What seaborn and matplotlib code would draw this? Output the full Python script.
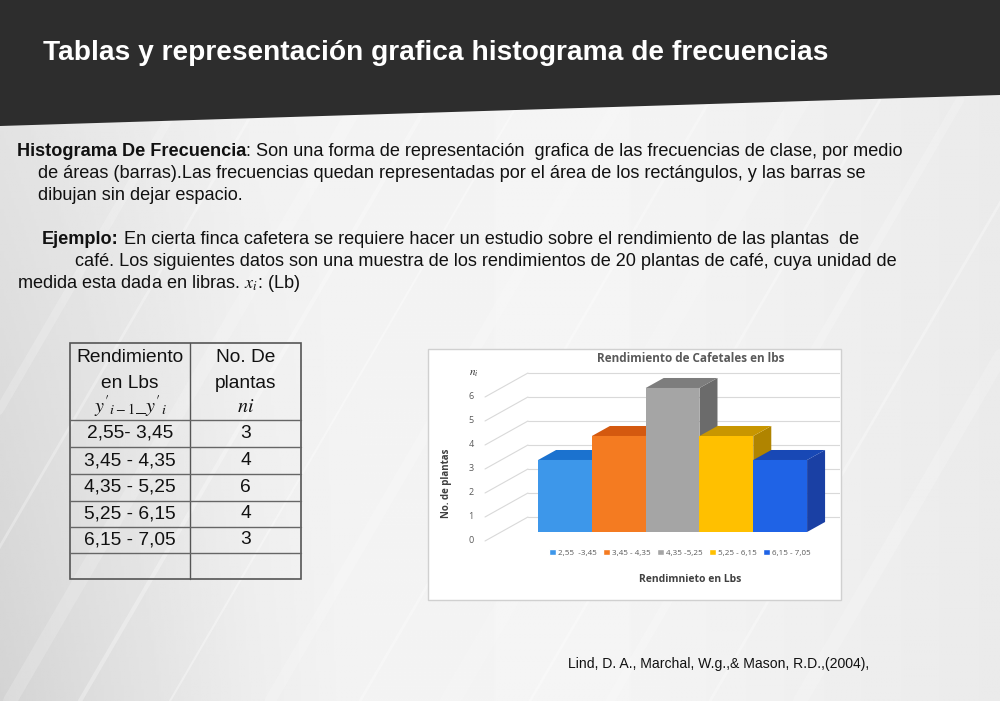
import matplotlib
matplotlib.use("Agg")
import numpy as np
import pandas as pd
import matplotlib.pyplot as plt
import seaborn as sns
from matplotlib.patches import Polygon, Rectangle
from matplotlib import font_manager

# Datos de la tabla / grafico
clases_tabla = ["2,55- 3,45", "3,45 - 4,35", "4,35 - 5,25", "5,25 - 6,15", "6,15 - 7,05"]
clases_leyenda = ["2,55  -3,45", "3,45 - 4,35", "4,35 -5,25", "5,25 - 6,15", "6,15 - 7,05"]
plantas = [3, 4, 6, 4, 3]
valores_eje = [0, 1, 2, 3, 4, 5, 6]

colores_frente = ["#3D97EA", "#F47B21", "#A5A5A5", "#FFC000", "#1F63E6"]
colores_arriba = ["#1B72CF", "#D4590F", "#7D7D7D", "#C89600", "#1848B5"]
colores_lado = ["#1A66BA", "#B84E0C", "#6B6B6B", "#B08400", "#1A40A4"]

sns.set_theme(style="white")
plt.rcParams["mathtext.fontset"] = "stix"
nombres = {f.name for f in font_manager.fontManager.ttflist}
narrow = "Liberation Sans Narrow" in nombres
fam = ["Liberation Sans Narrow"] if narrow else ["Liberation Sans"]
fam_chart = ["Open Sans", "DejaVu Sans"]
plt.rcParams["font.family"] = fam + ["DejaVu Sans"]

fig = plt.figure(figsize=(10, 7.01), dpi=100)
renderer = fig.canvas.get_renderer()
bg = fig.add_axes([0, 0, 1, 1])
bg.set_xlim(0, 1000)
bg.set_ylim(701, 0)
bg.axis("off")

# fondo gris claro con franjas diagonales suaves
xx = np.linspace(0, 1000, 400)[None, :]
yy_ = np.linspace(0, 701, 200)[:, None]
img = (np.interp(xx, [0, 250, 600, 1000], [0.90, 0.95, 0.96, 0.92])
       - 0.07 * (yy_ / 701) * np.clip(1 - xx / 350, 0, 1))
bg.imshow(img, cmap="gray", vmin=0, vmax=1, extent=[0, 1000, 701, 0], aspect="auto", zorder=0)
for x0, lw, a in [(80, 6, 0.2), (160, 2, 0.3), (260, 10, 0.18), (330, 3, 0.3), (420, 1.5, 0.35),
                  (520, 8, 0.18), (610, 2, 0.3), (700, 14, 0.15), (780, 2, 0.3), (860, 6, 0.2),
                  (960, 2, 0.3), (1050, 10, 0.18)]:
    bg.plot([x0 - 250, x0 + 100], [701, 100], color="white", lw=lw, alpha=a, zorder=0.5)

# cabecera oscura
bg.add_patch(Polygon([(0, 0), (1000, 0), (1000, 95), (0, 126)], closed=True,
                     fc="#2d2d2d", ec="none", zorder=1))


def ancho(t):
    return t.get_window_extent(renderer=renderer).width


def ajustar(x, y, s, w_obj, ha="left", **kw):
    t = bg.text(x, y, s, fontsize=12, va="center", ha=ha, **kw)
    t.set_fontsize(12 * w_obj / ancho(t))
    return t


ajustar(43, 53, "Tablas y representación grafica histograma de frecuencias", 779,
        color="white", fontweight="bold" if not narrow else "normal", zorder=2)

# texto del cuerpo
t2 = ajustar(38, 174, "de áreas (barras).Las frecuencias quedan representadas por el área de los rectángulos, y las barras se",
             830, color="#111111", zorder=2)
size = t2.get_fontsize()


def linea(x, y, partes):
    for s, peso in partes:
        t = bg.text(x, y, s, fontsize=size, fontweight=peso, va="center", ha="left",
                    color="#111111", zorder=2)
        x += ancho(t)


linea(17, 152, [("Histograma De Frecuencia", "bold"),
                (": Son una forma de representación  grafica de las frecuencias de clase, por medio", "normal")])
linea(38, 195, [("dibujan sin dejar espacio.", "normal")])
linea(42, 239, [("Ejemplo:", "bold"),
                (" En cierta finca cafetera se requiere hacer un estudio sobre el rendimiento de las plantas  de", "normal")])
linea(75, 261, [("café. Los siguientes datos son una muestra de los rendimientos de 20 plantas de café, cuya unidad de", "normal")])
linea(17, 283, [("medida esta dada en libras. $x_i$: (Lb)", "normal")])

# tabla
xl, xm, xr = 70, 190, 301
filas_y = [420, 447, 474, 501, 527, 553, 579]
bg.add_patch(Rectangle((xl, 343), xr - xl, 579 - 343, fc="none", ec="#555555", lw=1.2, zorder=2))
bg.plot([xm, xm], [343, 579], color="#555555", lw=1, zorder=2)
for yy in filas_y[:-1]:
    bg.plot([xl, xr], [yy, yy], color="#666666", lw=1, zorder=2)
tref = ajustar((xl + xm) / 2, 357, "Rendimiento", 108, ha="center", color="#111111", zorder=3)
tsize = tref.get_fontsize()
for s, yy in [("en Lbs", 383)]:
    bg.text((xl + xm) / 2, yy, s, fontsize=tsize, ha="center", va="center", color="#111111", zorder=3)
for s, yy in [("No. De", 357), ("plantas", 383)]:
    bg.text((xm + xr) / 2, yy, s, fontsize=tsize, ha="center", va="center", color="#111111", zorder=3)
bg.text((xl + xm) / 2, 407, r"$y'_{i-1}\_y'_{i}$", fontsize=tsize * 1.05, ha="center", va="center",
        color="#111111", zorder=3)
bg.text((xm + xr) / 2, 407, r"$ni$", fontsize=tsize * 1.05, ha="center", va="center", color="#111111", zorder=3)
for i, (c, n) in enumerate(zip(clases_tabla, plantas)):
    yc = (filas_y[i] + filas_y[i + 1]) / 2
    bg.text((xl + xm) / 2, yc, c, fontsize=tsize, ha="center", va="center", color="#111111", zorder=3)
    bg.text((xm + xr) / 2, yc, str(n), fontsize=tsize, ha="center", va="center", color="#111111", zorder=3)

# caja blanca del grafico
bg.add_patch(Rectangle((428, 349), 413, 251, fc="white", ec="#d0d0d0", lw=1, zorder=2))
bg.text(691, 358, "Rendimiento de Cafetales en lbs", fontsize=8.5, fontweight="bold", color="#595959",
        ha="center", va="center", family=fam_chart, zorder=3)
bg.text(446, 483, "No. de plantas", fontsize=7, fontweight="bold", color="#404040", rotation=90,
        ha="center", va="center", family=fam_chart, zorder=3)
bg.text(690, 580, "Rendimnieto en Lbs", fontsize=7.5, fontweight="bold", color="#404040",
        ha="center", va="center", family=fam_chart, zorder=3)

# barras 3D
ax = fig.add_axes([470 / 1000, (701 - 545) / 701, 370 / 1000, 180 / 701])
ax.patch.set_alpha(0)
df = pd.DataFrame({"clase": clases_leyenda, "plantas": plantas})
sns.barplot(data=df, x="clase", y="plantas", hue="clase", palette=colores_frente, saturation=1,
            width=1.0, legend=False, ax=ax)
ax.set_xlim(-1.766, 5.112)
ax.set_ylim(-0.542, 6.958)
ax.set_axis_off()

dx, dy = 18 / 53.8, 10 / 24
for k in valores_eje:
    ax.plot([-1.487, -0.688], [k - 0.375, k + 0.625], color="#d9d9d9", lw=0.8, zorder=1)
    ax.plot([-0.688, 5.112], [k + 0.625, k + 0.625], color="#d9d9d9", lw=0.8, zorder=1)
    ax.text(-1.747, k - 0.375, str(k), fontsize=6.5, color="#595959", ha="center", va="center",
            family=fam_chart, clip_on=False)
ax.text(-1.69, 6.58, r"$n_i$", fontsize=8, color="#333333", ha="center", va="center", clip_on=False)

for i, p in enumerate(ax.patches):
    x0, w, h = p.get_x(), p.get_width(), p.get_height()
    z = 3 + i * 0.1
    ax.add_patch(Polygon([(x0 + w, 0), (x0 + w + dx, dy), (x0 + w + dx, h + dy), (x0 + w, h)],
                         closed=True, fc=colores_lado[i], ec="none", zorder=z))
    ax.add_patch(Polygon([(x0, h), (x0 + w, h), (x0 + w + dx, h + dy), (x0 + dx, h + dy)],
                         closed=True, fc=colores_arriba[i], ec="none", zorder=z + 0.01))
    p.set_zorder(z + 0.05)
    p.set_edgecolor("none")

manejadores = [Rectangle((0, 0), 1, 1, fc=c) for c in colores_frente]
fig.legend(manejadores, clases_leyenda, ncol=5, loc="center", bbox_to_anchor=(680 / 1000, 1 - 553 / 701),
           frameon=False, prop={"family": fam_chart, "size": 5.8}, labelcolor="#595959",
           handlelength=0.8, handleheight=0.8, columnspacing=0.8, handletextpad=0.3)

# cita
ajustar(568, 664, "Lind, D. A., Marchal, W.g.,& Mason, R.D.,(2004),", 300, color="#111111", zorder=2)

fig.savefig("out.png", dpi=100)
